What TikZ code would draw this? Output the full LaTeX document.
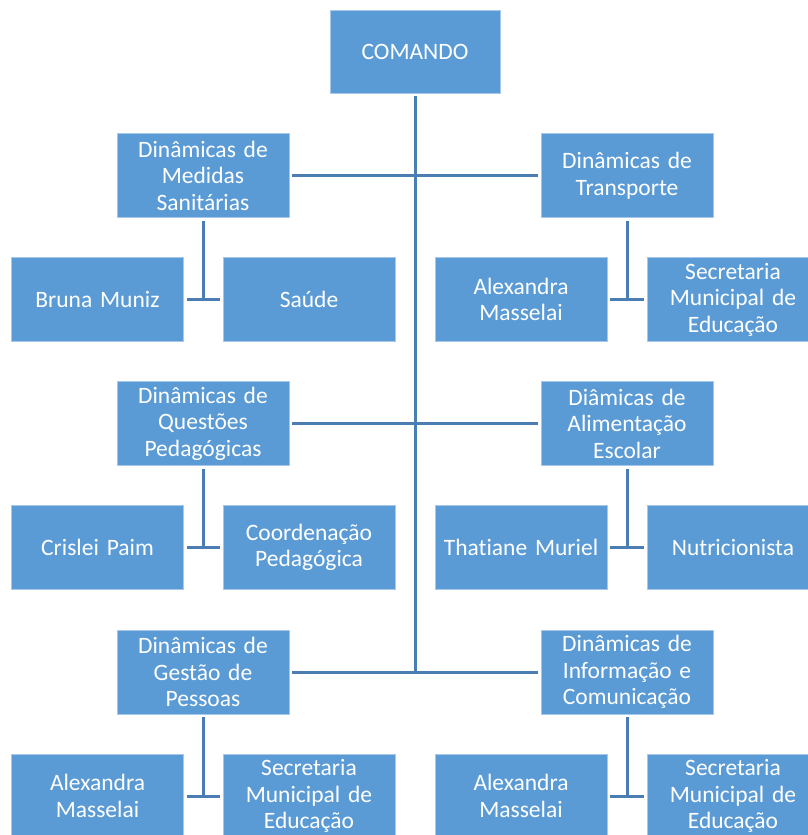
\documentclass[tikz,border=0pt]{standalone}
\usepackage{fontspec}
\setmainfont[RawFeature={-liga;-calt;-dlig}]{Carlito}
\definecolor{boxfill}{HTML}{5B9BD5}
\definecolor{boxedge}{HTML}{A8C8EA}
\definecolor{linec}{HTML}{4A7EB2}
\newcommand{\boxfont}{\fontsize{23.5}{26.5}\selectfont\fontdimen2\font=0.19em}
\begin{document}
\begin{tikzpicture}[x=1pt,y=-1pt,
  box/.style={rectangle, fill=boxfill, draw=boxedge, line width=0.6pt,
    minimum width=172pt, minimum height=84pt, inner sep=0pt,
    text=white, align=center, text width=168pt,
    font=\boxfont},
  conn/.style={draw=linec, line width=3pt, shorten <=3pt, shorten >=3pt},
  trunk/.style={draw=linec, line width=3pt, shorten <=3pt}]
\useasboundingbox (0,0) rectangle (808,835);
\clip (0,0) rectangle (808,835);
\fill[white] (0,0) rectangle (808,835);
% top
\node[box, minimum width=170pt, minimum height=83pt] (cmd) at (415,51.5) {COMANDO};
% level 2
\node[box] (med) at (203,175.5) {Dinâmicas de\\Medidas\\Sanitárias};
\node[box] (tra) at (627,175.5) {Dinâmicas de\\Transporte};
\node[box] (que) at (203,423.5) {Dinâmicas de\\Questões\\Pedagógicas};
\node[box] (ali) at (627,423.5) {Diâmicas de\\Alimentação\\Escolar};
\node[box] (ges) at (203,672) {Dinâmicas de\\Gestão de\\Pessoas};
\node[box] (inf) at (627,672) {Dinâmicas de\\Informação e\\Comunicação};
% level 3
\node[box] (bru) at (97.5,299.5) {Bruna Muniz};
\node[box] (sau) at (309,299.5) {Saúde};
\node[box] (ale1) at (521,299.5) {Alexandra\\Masselai};
\node[box] (sec1) at (733,299.5) {Secretaria\\Municipal de\\Educação};
\node[box] (cri) at (97.5,547.5) {Crislei Paim};
\node[box] (coo) at (309,547.5) {Coordenação\\Pedagógica};
\node[box] (tha) at (521,547.5) {Thatiane Muriel};
\node[box] (nut) at (733,547.5) {Nutricionista};
\node[box] (ale2) at (97.5,796) {Alexandra\\Masselai};
\node[box] (sec2) at (309,796) {Secretaria\\Municipal de\\Educação};
\node[box] (ale3) at (521,796) {Alexandra\\Masselai};
\node[box] (sec3) at (733,796) {Secretaria\\Municipal de\\Educação};
% trunk
\draw[trunk] (cmd.south) -- (cmd.south |- ges.east);
% level 2 connectors
\draw[conn] (med.east) -- (tra.west);
\draw[conn] (que.east) -- (ali.west);
\draw[conn] (ges.east) -- (inf.west);
% level 3 connectors
\foreach \p/\a/\b in {med/bru/sau, tra/ale1/sec1, que/cri/coo, ali/tha/nut, ges/ale2/sec2, inf/ale3/sec3}{
  \draw[trunk] (\p.south) -- (\p.south |- \a.east);
  \draw[conn] (\a.east) -- (\b.west);
}
\end{tikzpicture}
\end{document}
